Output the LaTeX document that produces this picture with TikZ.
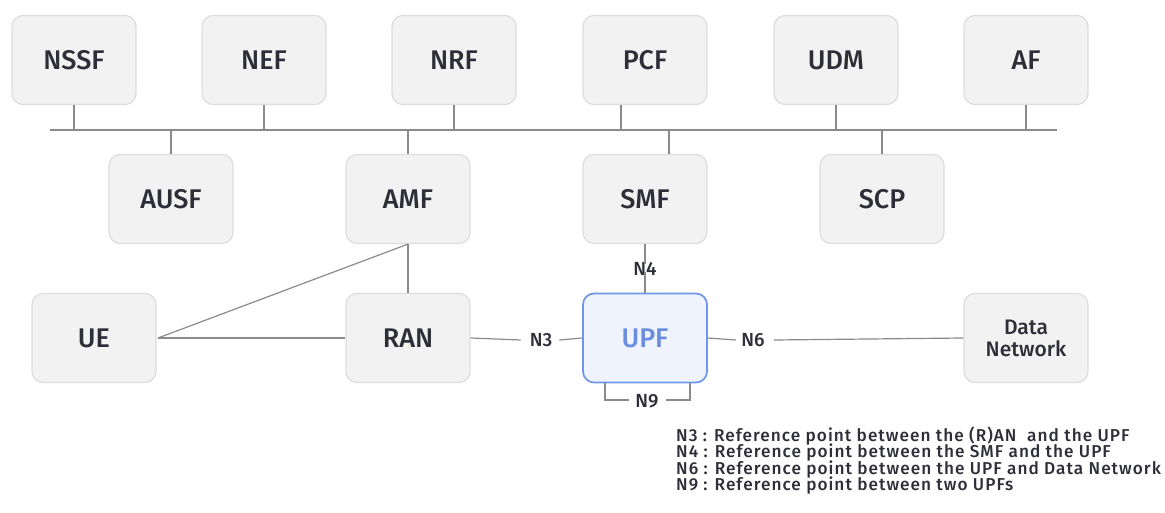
\documentclass[tikz,border=0pt]{standalone}
\usepackage{fontspec}
\setmainfont{Fira Sans}[UprightFont={* Medium}]
\begin{document}
\begin{tikzpicture}[x=1pt,y=-1pt,
  nf/.style={draw=boxline,fill=boxfill,rounded corners=11pt,minimum width=124pt,minimum height=89pt,
    line width=1.2pt,font=\fontsize{27}{29}\selectfont,text=txt,inner sep=0pt,align=center},
  upf/.style={nf,draw=upfline,fill=upffill,text=upftxt,line width=1.7pt},
  link/.style={draw=wire,line width=1.2pt},
  lbl/.style={font=\fontsize{19}{21}\selectfont,text=txt,inner sep=0pt},
  legend/.style={font=\fontsize{17.2}{18}\selectfont\addfontfeature{LetterSpace=6},
    text=txt,inner sep=0pt,anchor=base west}]
\definecolor{boxfill}{HTML}{F2F2F2}
\definecolor{boxline}{HTML}{DDDDDD}
\definecolor{wire}{HTML}{8A8A8A}
\definecolor{txt}{HTML}{2E2E38}
\definecolor{upffill}{HTML}{EEF3FD}
\definecolor{upfline}{HTML}{6F95EA}
\definecolor{upftxt}{HTML}{6A8DE0}
\useasboundingbox (0,0) rectangle (1165,513);

% network functions on the service bus
\node[nf] (nssf) at (74,60) {NSSF};
\node[nf] (nef)  at (264,60) {NEF};
\node[nf] (nrf)  at (454,60) {NRF};
\node[nf] (pcf)  at (645,60) {PCF};
\node[nf] (udm)  at (836,60) {UDM};
\node[nf] (af)   at (1026,60) {AF};
\node[nf] (ausf) at (171,199) {AUSF};
\node[nf] (amf)  at (408,199) {AMF};
\node[nf] (smf)  at (645,199) {SMF};
\node[nf] (scp)  at (882,199) {SCP};

% user plane
\node[nf]  (ue)  at (94,338) {UE};
\node[nf]  (ran) at (408,338) {RAN};
\node[upf] (upfn) at (645,338) {UPF};
\node[nf,font=\fontsize{21}{22}\selectfont] (dn) at (1026,338) {Data\\Network};

% service-based bus
\coordinate (busL) at (50,130);
\coordinate (busR) at (1057,130);
\draw[link] (busL) -- (busR);
\foreach \n/\x in {nssf/74,nef/264,nrf/454,pcf/621,udm/836,af/1026}
  \draw[link] (\n.south -| \x,0) -- (\x,130);
\foreach \n/\x in {ausf/171,amf/408,smf/669,scp/882}
  \draw[link] (\n.north -| \x,0) -- (\x,130);

% access links
\coordinate (uep) at (158,338);
\draw[link] (uep) -- (ran.west);
\draw[link] (uep) -- (amf.south);
\draw[link] (amf.south) -- (ran.north);

% reference points
\node[lbl] (n3) at (541,340) {N3};
\draw[link] (ran.east) -- ([xshift=-9pt]n3.west);
\draw[link] ([xshift=7pt]n3.east) -- (upfn.west);

\node[lbl] (n6) at (753,340) {N6};
\draw[link] (upfn.east) -- ([xshift=-5pt]n6.west);
\draw[link] ([xshift=9pt]n6.east) -- (dn.west);

\node[lbl] (n4) at (645,269) {N4};
\draw[link] (smf.south) -- ([yshift=-2pt]n4.north);
\draw[link] ([yshift=4pt]n4.south) -- (upfn.north);

\node[lbl] (n9) at (647,401) {N9};
\draw[link] (605,383) -- (605,400) -- ([xshift=-6pt]n9.west |- 0,400);
\draw[link] ([xshift=7pt]n9.east |- 0,400) -- (690,400) -- (690,383);

% legend, one line per reference point
\node[legend] (key3) at (676,441.5) {N3 : Reference point between the (R)AN\ \ and the UPF};
\node[legend] (key4) at (676,457.7) {N4 : Reference point between the SMF and the UPF};
\node[legend] (key6) at (676,474.0) {N6 : Reference point between the UPF and Data Network};
\node[legend] (key9) at (676,490.3) {N9 : Reference point between two UPFs};
\end{tikzpicture}
\end{document}
